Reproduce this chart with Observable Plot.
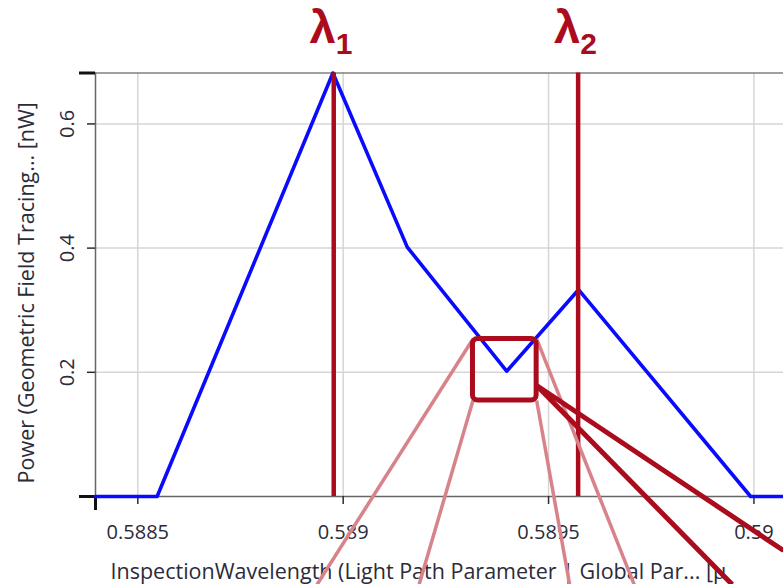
<!DOCTYPE html>
<html>
<head>
<meta charset="utf-8">
<script src="https://cdn.jsdelivr.net/npm/d3@7"></script>
<script src="https://cdn.jsdelivr.net/npm/@observablehq/plot@0.6"></script>
<style>
  html, body { margin: 0; padding: 0; background: #fff; overflow: hidden; }
</style>
</head>
<body>
<div id="chart"></div>
<script>
// ---- data ----
const wavelength = [0.588397, 0.588547, 0.588975, 0.589156, 0.589398, 0.589573, 0.589992, 0.590072];
const power      = [0,        0,        0.682,    0.4016,   0.2018,   0.333,    0,        0];

const lambdaX   = [0.588977, 0.589572];
const lambdaSub = ["1", "2"];

const xTicks = [0.5885, 0.589, 0.5895, 0.59];
const xTickLabels = ["0.5885", "0.589", "0.5895", "0.59"];
const yTicks = [0.2, 0.4, 0.6];
const yTickLabels = ["0.2", "0.4", "0.6"];

const xDomain = [0.588397, 0.590072];
const yDomain = [0, 0.682];

const xLabel = "InspectionWavelength (Light Path Parameter | Global Par... [µ";
const yLabel = "Power (Geometric Field Tracing... [nW]";

// zoom annotation (data units)
const zoomBoxX = [0.589316, 0.589471];
const zoomBoxY = [0.1546, 0.2537];
const fanFromX = [zoomBoxX[0], zoomBoxX[0], zoomBoxX[1], zoomBoxX[1]];
const fanFromY = [zoomBoxY[1], zoomBoxY[0], zoomBoxY[0], zoomBoxY[1]];
const fanToX   = [0.5889364, 0.5891849, 0.5895514, 0.5897085];
const fanToY   = [-0.1418, -0.1418, -0.1418, -0.1418];
const leadFromX = [zoomBoxX[1], zoomBoxX[1]];
const leadFromY = [0.1788, 0.1788];
const leadToX   = [0.590072, 0.5899472];
const leadToY   = [-0.087, -0.1418];

// ---- build ----
const series = wavelength.map((w, i) => ({w, p: power[i]}));
const idx4 = d3.range(4), idx2 = d3.range(2);
const darkRed = "#ab0c1d";
const textCol = "#2b2b3a";
const font = "Open Sans";

const chart = Plot.plot({
  width: 783,
  height: 584,
  marginLeft: 95,
  marginRight: 0,
  marginTop: 72.5,
  marginBottom: 88,
  style: {fontFamily: font, background: "white"},
  x: {domain: xDomain},
  y: {domain: yDomain},
  marks: [
    Plot.gridX({ticks: xTicks, stroke: "#d6d6d6", strokeOpacity: 1, strokeWidth: 1.5}),
    Plot.gridY({ticks: yTicks, stroke: "#d6d6d6", strokeOpacity: 1, strokeWidth: 1.5}),
    Plot.ruleY([yDomain[1]], {stroke: "#808080", strokeWidth: 1.5}),
    Plot.ruleX([xDomain[0]], {stroke: "#666", strokeWidth: 1.5}),
    Plot.ruleY([yDomain[0]], {stroke: "#666", strokeWidth: 1.5}),
    Plot.axisX({ticks: xTicks, tickSize: 8, tickPadding: 20, fontSize: 20, color: textCol, strokeWidth: 1.5,
      tickFormat: d => xTickLabels[xTicks.indexOf(d)], label: null}),
    Plot.axisY({ticks: yTicks, tickSize: 8, tickPadding: 14, tickRotate: -90, fontSize: 20, color: textCol, strokeWidth: 1.5,
      tickFormat: d => yTickLabels[yTicks.indexOf(d)], label: null}),
    Plot.axisY({ticks: yDomain, tickSize: 16, strokeWidth: 3, color: "#111", tickFormat: () => "", label: null}),
    Plot.axisX({ticks: [xDomain[0]], tickSize: 14, strokeWidth: 3, color: "#111", tickFormat: () => "", label: null}),
    Plot.line(series, {x: "w", y: "p", stroke: "#0a0aff", strokeWidth: 3.6, strokeLinejoin: "round"}),
    Plot.ruleX(lambdaX, {stroke: darkRed, strokeWidth: 4.5}),
    Plot.text(lambdaX, {x: d => d, text: () => "λ", frameAnchor: "top", textAnchor: "end", lineAnchor: "bottom",
      dx: 2, dy: -30.5, fontSize: 47, fontWeight: "bold", fontFamily: "Liberation Sans", fill: darkRed}),
    Plot.text(idx2, {x: i => lambdaX[i], text: i => lambdaSub[i], frameAnchor: "top", textAnchor: "start", lineAnchor: "bottom",
      dx: 2, dy: -19.2, fontSize: 30, fontWeight: "bold", fontFamily: "Liberation Sans", fill: darkRed}),
    Plot.text([xLabel], {text: d => d, frameAnchor: "bottom-left", textAnchor: "start", lineAnchor: "middle",
      dx: 15, dy: 76, fontSize: 21.5, fill: textCol}),
    Plot.text([yLabel], {text: d => d, frameAnchor: "left", textAnchor: "middle", lineAnchor: "middle", rotate: -90,
      dx: -68, dy: 8, fontSize: 21.5, fill: textCol}),
    Plot.link(idx4, {x1: i => fanFromX[i], y1: i => fanFromY[i], x2: i => fanToX[i], y2: i => fanToY[i],
      stroke: "#d8838a", strokeWidth: 3.5}),
    Plot.rect([0], {x1: () => zoomBoxX[0], x2: () => zoomBoxX[1], y1: () => zoomBoxY[0], y2: () => zoomBoxY[1],
      fill: "none", stroke: darkRed, strokeWidth: 5, rx: 5}),
    Plot.link(idx2, {x1: i => leadFromX[i], y1: i => leadFromY[i], x2: i => leadToX[i], y2: i => leadToY[i],
      stroke: darkRed, strokeWidth: 5})
  ]
});
document.getElementById("chart").appendChild(chart);
</script>
</body>
</html>
